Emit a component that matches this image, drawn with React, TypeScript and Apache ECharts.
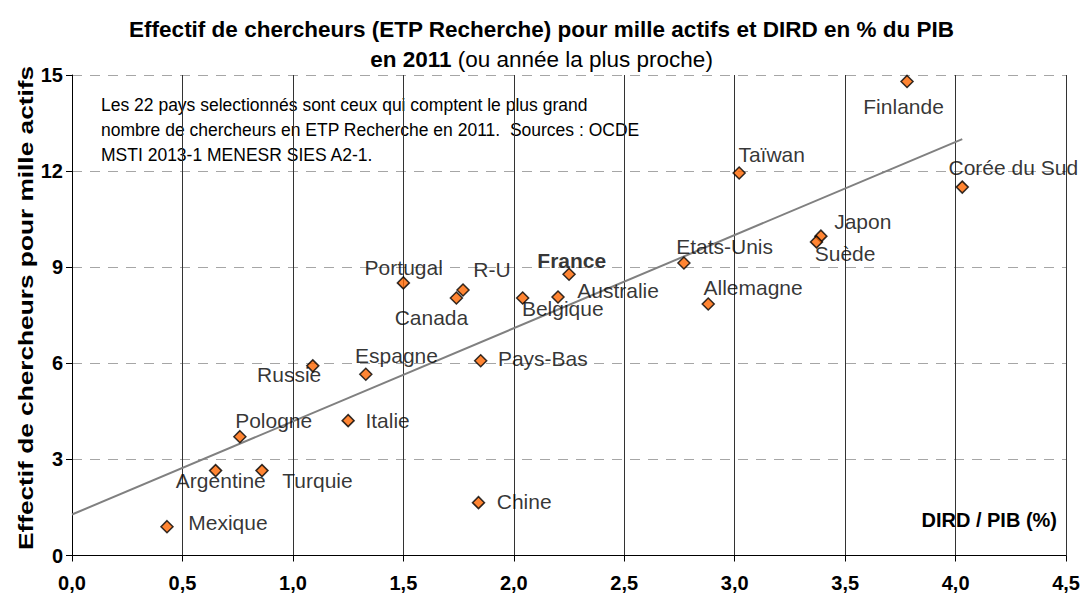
import React, { useEffect, useRef } from "react";
import * as echarts from "echarts";

const countries = ["Finlande", "Corée du Sud", "Taïwan", "Japon", "Suède", "Etats-Unis", "Allemagne", "France", "Australie", "Belgique", "Canada", "R-U", "Portugal", "Pays-Bas", "Espagne", "Russie", "Italie", "Pologne", "Argentine", "Turquie", "Mexique", "Chine"];
const dirdPib = [3.78, 4.03, 3.02, 3.39, 3.37, 2.77, 2.88, 2.25, 2.2, 2.04, 1.74, 1.77, 1.5, 1.85, 1.33, 1.09, 1.25, 0.76, 0.65, 0.86, 0.43, 1.84];
const chercheurs = [14.8, 11.5, 11.94, 9.97, 9.79, 9.13, 7.85, 8.78, 8.07, 8.04, 8.04, 8.29, 8.51, 6.08, 5.66, 5.92, 4.21, 3.71, 2.65, 2.65, 0.9, 1.65];
const trendX = [0, 4.03];
const trendY = [1.28, 13.0];
const xTicks = [0, 0.5, 1, 1.5, 2, 2.5, 3, 3.5, 4, 4.5];
const yTicks = [0, 3, 6, 9, 12, 15];

// label placement (offset of label's left edge / vertical middle from marker centre, px)
const labelPlace: Record<string, [number, number]> = {
  "Finlande": [-43, 26],
  "Corée du Sud": [-13, -19],
  "Taïwan": [0, -18],
  "Japon": [14, -14],
  "Suède": [-1, 12],
  "Etats-Unis": [-7, -16],
  "Allemagne": [-4, -16],
  "France": [-31, -13],
  "Australie": [20, -6],
  "Belgique": [0, 11],
  "Canada": [-61, 20],
  "R-U": [11, -20],
  "Portugal": [-38, -15],
  "Pays-Bas": [18, -1],
  "Espagne": [-10, -18],
  "Russie": [-55, 9],
  "Italie": [18, 1],
  "Pologne": [-4, -15],
  "Argentine": [-39, 11],
  "Turquie": [21, 11],
  "Mexique": [22, -3],
  "Chine": [19, 0],
};

const FONT = "'Liberation Sans', Arial, sans-serif";

export default function App() {
  const ref = useRef<HTMLDivElement>(null);
  useEffect(() => {
    document.body.style.margin = "0";
    if (!ref.current) return;
    const chart = echarts.init(ref.current, undefined, { renderer: "svg" });
    const sym = 12;
    const points = countries.map((name, i) => {
      const p = labelPlace[name] || [10, 0];
      return {
        name,
        value: [dirdPib[i], chercheurs[i]],
        label: {
          show: true,
          formatter: name,
          position: [sym / 2 + p[0], sym / 2 + p[1]],
          align: "left",
          verticalAlign: "middle",
          fontSize: 21,
          fontFamily: FONT,
          color: "#000",
          textBorderWidth: 0,
          fontWeight: name === "France" ? "bold" : "normal",
        },
      };
    });
    chart.setOption({
      animation: false,
      backgroundColor: "#fff",
      textStyle: { fontFamily: FONT },
      title: {
        left: "center",
        top: 9,
        itemGap: 4,
        text: "Effectif de chercheurs (ETP Recherche) pour mille actifs et DIRD en % du PIB\n{b|en 2011} {n|(ou année la plus proche)}",
        textStyle: {
          fontSize: 22.5,
          fontWeight: "bold",
          fontFamily: FONT,
          color: "#000",
          lineHeight: 30,
          rich: {
            b: { fontSize: 22.5, fontWeight: "bold", fontFamily: FONT, color: "#000", lineHeight: 30 },
            n: { fontSize: 22.5, fontWeight: "normal", fontFamily: FONT, color: "#000", lineHeight: 30 },
          },
        },
      },
      grid: { left: 72, right: 16, top: 75, bottom: 44.5, containLabel: false },
      xAxis: {
        type: "value",
        min: xTicks[0],
        max: xTicks[xTicks.length - 1],
        interval: 0.5,
        axisLine: { show: true, lineStyle: { color: "#000", width: 1 } },
        axisTick: { show: true, length: 6, lineStyle: { color: "#000" } },
        splitLine: { show: true, lineStyle: { color: "#333", width: 1 } },
        axisLabel: {
          formatter: (v: number) => v.toFixed(1).replace(".", ","),
          fontSize: 20,
          fontWeight: "bold",
          color: "#000",
          fontFamily: FONT,
          margin: 17,
        },
      },
      yAxis: {
        type: "value",
        min: yTicks[0],
        max: yTicks[yTicks.length - 1],
        interval: 3,
        axisLine: { show: true, lineStyle: { color: "#000", width: 1 } },
        axisTick: { show: true, length: 6, lineStyle: { color: "#000" } },
        splitLine: { show: true, lineStyle: { color: "#a6a6a6", type: [10, 8], width: 1 } },
        axisLabel: {
          fontSize: 20,
          fontWeight: "bold",
          color: "#000",
          fontFamily: FONT,
          margin: 9,
        },
      },
      graphic: [
        {
          type: "text",
          x: 25,
          y: 308,
          rotation: Math.PI / 2,
          scaleX: 1.25,
          style: {
            text: "Effectif de chercheurs pour mille actifs",
            fontSize: 21,
            fontWeight: "bold",
            fontFamily: FONT,
            fill: "#000",
            align: "center",
            verticalAlign: "middle",
          },
        },
        {
          type: "text",
          x: 101,
          y: 92,
          style: {
            text: "Les 22 pays selectionnés sont ceux qui comptent le plus grand\nnombre de chercheurs en ETP Recherche en 2011.  Sources : OCDE\nMSTI 2013-1 MENESR SIES A2-1.",
            fontSize: 17.5,
            lineHeight: 25,
            fontFamily: FONT,
            fill: "#000",
            align: "left",
            verticalAlign: "top",
          },
        },
        {
          type: "text",
          x: 1057,
          y: 520,
          style: {
            text: "DIRD / PIB (%)",
            fontSize: 20,
            fontWeight: "bold",
            fontFamily: FONT,
            fill: "#000",
            align: "right",
            verticalAlign: "middle",
          },
        },
      ],
      series: [
        {
          type: "line",
          data: trendX.map((x, i) => [x, trendY[i]]),
          symbol: "none",
          lineStyle: { color: "#808080", width: 2 },
          z: 2,
          silent: true,
        },
        {
          type: "scatter",
          data: points,
          symbol: "diamond",
          symbolSize: sym,
          itemStyle: { color: "#FF6600", borderColor: "#000", borderWidth: 1.5 },
          z: 3,
        },
      ],
    });
    return () => chart.dispose();
  }, []);
  return <div ref={ref} style={{ width: 1083, height: 600 }} />;
}
